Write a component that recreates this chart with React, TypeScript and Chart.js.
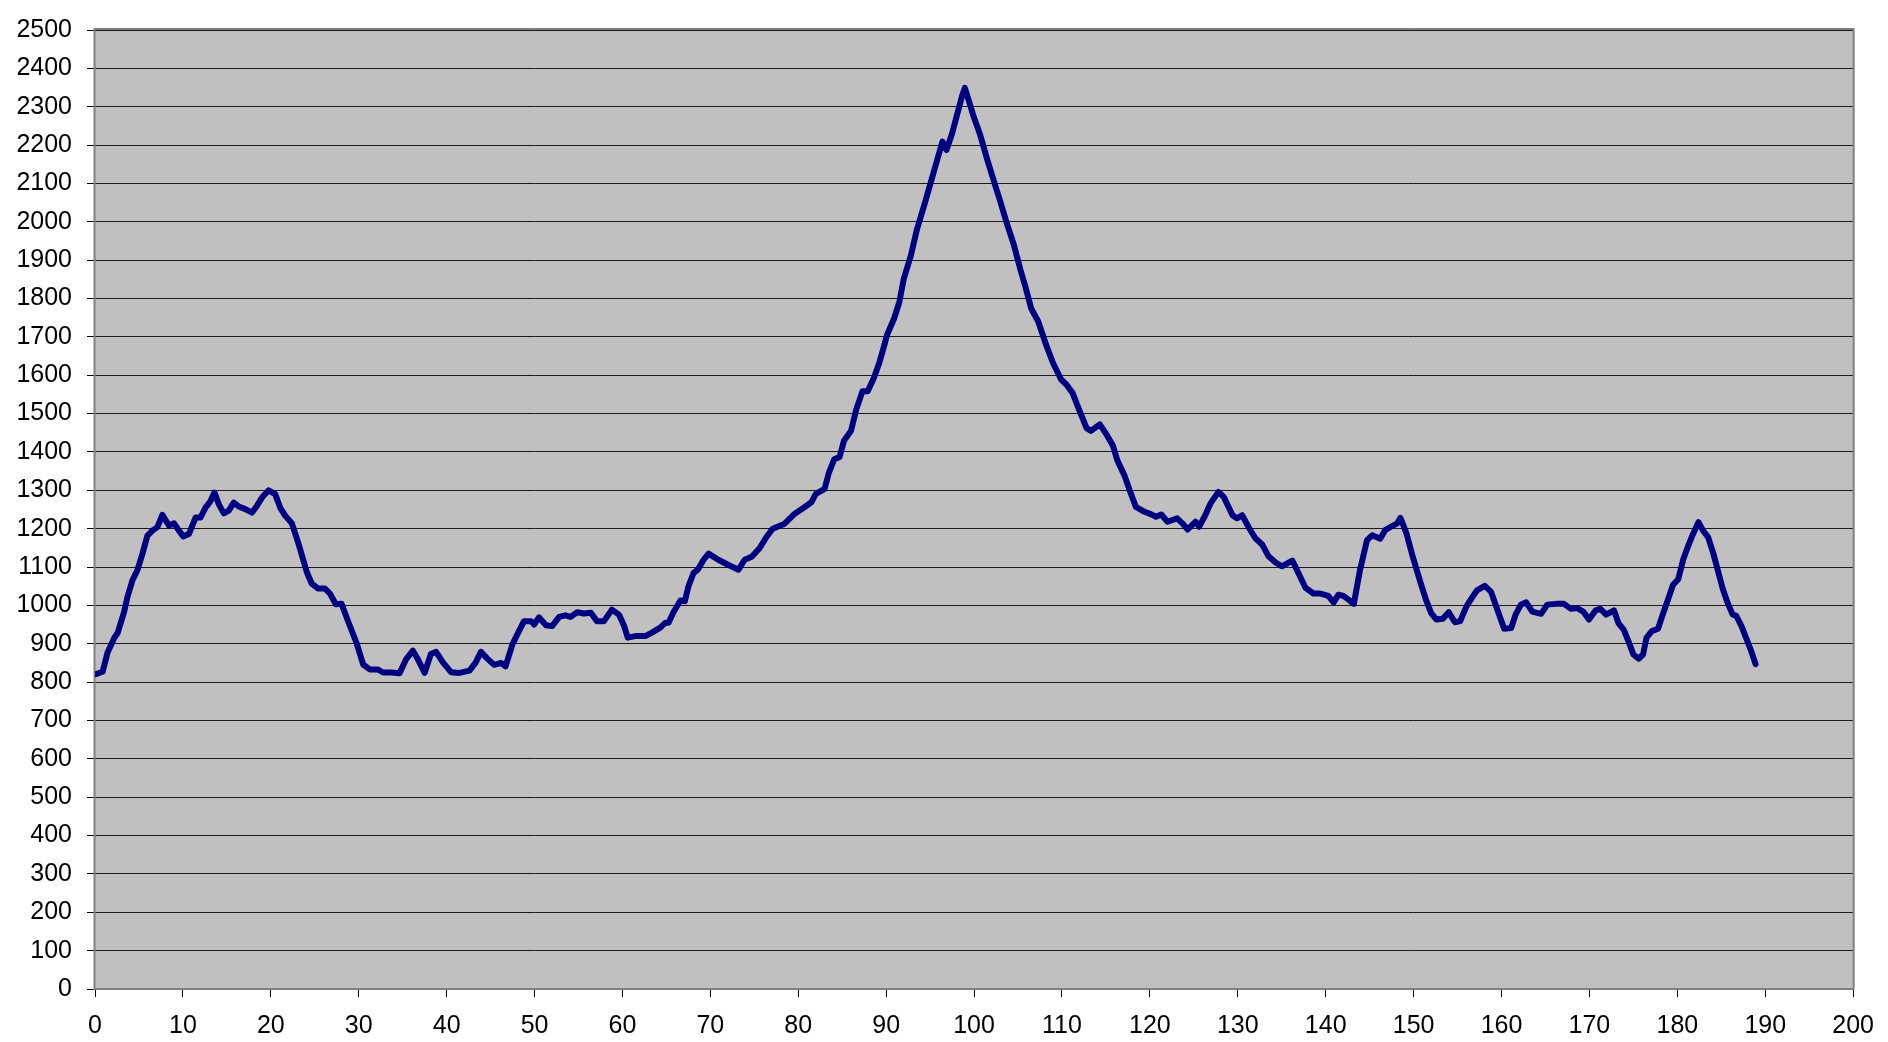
import React, { useEffect, useRef } from "react";
import { Chart, registerables } from "chart.js";

Chart.register(...registerables);

// Horizontal positions (x-axis values) of the traced curve
const xValues: number[] = [
  0.1, 0.87, 1.43, 2.19, 2.57, 3.32, 3.7, 4.27, 4.83, 5.4, 5.96, 6.53, 7.1, 7.66, 8.42, 8.98, 9.55, 10.04, 10.68, 11.44,
  12.0, 12.57, 13.14, 13.59, 14.08, 14.65, 15.22, 15.78, 16.35, 17.1, 17.86, 18.43, 19.0, 19.75, 20.5, 21.06, 21.63, 22.39, 23.15, 24.09,
  24.65, 25.4, 26.16, 26.72, 27.4, 28.05, 28.8, 29.75, 30.5, 31.26, 32.2, 32.77, 33.7, 34.65, 35.4, 36.16, 36.72, 37.5, 38.2, 38.8,
  39.6, 40.5, 41.45, 42.6, 43.3, 43.9, 44.6, 45.4, 46.2, 46.7, 47.5, 48.06, 48.8, 49.6, 49.95, 50.5, 51.3, 52.0, 52.8, 53.5,
  54.1, 54.85, 55.6, 56.4, 57.1, 57.9, 58.8, 59.6, 60.2, 60.6, 61.45, 62.6, 63.35, 64.3, 64.9, 65.25, 65.8, 66.6, 67.1, 67.5,
  68.07, 68.6, 69.2, 69.8, 70.9, 72.0, 73.2, 73.9, 74.7, 75.6, 76.4, 77.1, 78.45, 79.6, 80.7, 81.5, 82.0, 83.0, 83.5, 84.1,
  84.7, 85.2, 86.0, 86.6, 87.3, 87.9, 88.6, 89.2, 89.8, 90.1, 90.9, 91.5, 92.0, 92.8, 93.5, 94.3, 95.05, 95.8, 96.4, 96.86,
  97.5, 98.1, 98.65, 98.95, 99.4, 99.9, 100.7, 101.45, 102.2, 102.97, 103.7, 104.5, 105.25, 105.8, 106.5, 107.3, 108.2, 108.98, 109.9, 110.5,
  111.2, 112.0, 112.8, 113.3, 114.3, 115.0, 115.8, 116.3, 117.1, 117.7, 118.4, 119.4, 120.1, 120.7, 121.3, 122.0, 123.1, 123.7, 124.3, 125.2,
  125.6, 126.3, 126.9, 127.8, 128.4, 129.4, 129.9, 130.5, 131.3, 132.0, 132.8, 133.5, 134.3, 135.0, 136.2, 136.9, 137.7, 138.6, 139.4, 140.3,
  140.9, 141.45, 142.0, 142.6, 143.2, 143.9, 144.7, 145.3, 146.2, 146.8, 147.5, 148.1, 148.5, 149.2, 149.9, 150.7, 151.4, 152.0, 152.6, 153.3,
  154.0, 154.7, 155.3, 156.0, 156.6, 157.2, 158.1, 158.8, 159.6, 160.3, 161.1, 161.6, 162.2, 162.8, 163.5, 164.5, 165.2, 166.2, 167.1, 167.9,
  168.6, 169.3, 169.95, 170.7, 171.25, 171.9, 172.8, 173.3, 173.9, 174.5, 175.0, 175.6, 176.1, 176.5, 177.1, 177.8, 178.4, 179.0, 179.5, 180.1,
  180.7, 181.2, 181.8, 182.4, 182.9, 183.5, 184.1, 184.6, 185.2, 185.8, 186.3, 186.7, 187.3, 187.9, 188.4, 188.9,
];

// Series values
const yValues: number[] = [
  821, 827, 877, 915, 928, 984, 1023, 1066, 1092, 1135, 1182, 1195, 1204, 1236, 1208, 1214, 1195, 1180, 1186, 1229,
  1229, 1255, 1272, 1294, 1264, 1240, 1247, 1268, 1258, 1251, 1242, 1260, 1281, 1300, 1290, 1255, 1234, 1214, 1161, 1087,
  1057, 1044, 1044, 1031, 1003, 1004, 958, 902, 846, 833, 833, 825, 825, 823, 860, 882, 860, 824, 873, 879,
  851, 826, 824, 830, 851, 879, 862, 845, 850, 841, 899, 925, 959, 959, 950, 969, 948, 946, 970, 974,
  970, 982, 979, 981, 959, 959, 989, 976, 946, 916, 920, 920, 929, 942, 955, 955, 982, 1013, 1011, 1049,
  1084, 1094, 1118, 1135, 1119, 1106, 1093, 1119, 1127, 1149, 1179, 1200, 1213, 1239, 1256, 1269, 1291, 1304, 1347, 1381,
  1387, 1429, 1455, 1511, 1558, 1558, 1593, 1631, 1679, 1705, 1748, 1791, 1851, 1911, 1980, 2041, 2101, 2161, 2209, 2187,
  2230, 2282, 2329, 2349, 2316, 2278, 2226, 2166, 2110, 2054, 1998, 1942, 1877, 1834, 1774, 1740, 1679, 1632, 1589, 1576,
  1554, 1507, 1462, 1455, 1472, 1448, 1416, 1378, 1339, 1300, 1257, 1244, 1238, 1231, 1237, 1218, 1227, 1214, 1198, 1218,
  1205, 1235, 1266, 1296, 1283, 1235, 1227, 1235, 1201, 1175, 1158, 1128, 1112, 1102, 1117, 1084, 1046, 1031, 1031, 1025,
  1008, 1028, 1025, 1015, 1004, 1092, 1170, 1183, 1174, 1197, 1206, 1213, 1228, 1187, 1127, 1066, 1015, 980, 963, 965,
  982, 956, 959, 997, 1019, 1039, 1051, 1036, 984, 939, 941, 976, 1002, 1008, 984, 978, 1002, 1004, 1004, 991,
  993, 984, 963, 987, 991, 976, 987, 954, 937, 903, 872, 861, 872, 916, 933, 939, 980, 1019, 1053, 1068,
  1122, 1153, 1187, 1217, 1196, 1178, 1135, 1092, 1041, 1002, 976, 973, 946, 911, 881, 847,
];

const xAxisMin = 0;
const xAxisMax = 200;
const xAxisStep = 10;
const yAxisMin = 0;
const yAxisMax = 2500;
const yAxisStep = 100;

const plotAreaPlugin = {
  id: "plotArea",
  beforeDraw(chart: any) {
    const { ctx, chartArea } = chart;
    ctx.save();
    ctx.fillStyle = "#C0C0C0";
    ctx.fillRect(chartArea.left, chartArea.top, chartArea.right - chartArea.left, chartArea.bottom - chartArea.top);
    ctx.restore();
  },
  beforeDatasetsDraw(chart: any) {
    const { ctx, chartArea } = chart;
    ctx.save();
    ctx.strokeStyle = "#808080";
    ctx.lineWidth = 2;
    ctx.strokeRect(chartArea.left - 0.5, chartArea.top - 1, chartArea.right - chartArea.left + 1, chartArea.bottom - chartArea.top + 1);
    ctx.restore();
  },
};

export default function App() {
  const canvasRef = useRef<HTMLCanvasElement | null>(null);

  useEffect(() => {
    if (!canvasRef.current) return;
    const points = xValues.map((x, i) => ({ x, y: yValues[i] }));
    const font = { family: "'Liberation Sans', Arial, sans-serif", size: 25 };
    const plain = (v: any) => String(v);
    const chart = new Chart(canvasRef.current, {
      type: "line",
      data: {
        datasets: [
          {
            data: points,
            borderColor: "#000080",
            borderWidth: 6,
            pointRadius: 0,
            tension: 0,
            fill: false,
            borderJoinStyle: "round",
            borderCapStyle: "round",
          },
        ],
      },
      options: {
        responsive: false,
        animation: false,
        devicePixelRatio: 1,
        layout: { padding: { top: 22, right: 28, bottom: 0, left: 0 } },
        plugins: { legend: { display: false }, tooltip: { enabled: false } },
        scales: {
          x: {
            type: "linear",
            min: xAxisMin,
            max: xAxisMax,
            ticks: { stepSize: xAxisStep, color: "#000", font, padding: 14, maxRotation: 0, autoSkip: false, callback: plain },
            grid: { drawOnChartArea: false, drawTicks: true, tickLength: 8, color: "#000", tickColor: "#000" },
            border: { display: false },
            afterFit: (s: any) => {
              s.height = 53;
            },
          },
          y: {
            type: "linear",
            min: yAxisMin,
            max: yAxisMax,
            ticks: { stepSize: yAxisStep, color: "#000", font, padding: 15, autoSkip: false, callback: plain },
            grid: { color: "#1a1a1a", lineWidth: 1, drawTicks: true, tickLength: 8, tickColor: "#000" },
            border: { display: false },
            afterFit: (s: any) => {
              s.width = 95;
            },
          },
        },
      },
      plugins: [plotAreaPlugin],
    });
    return () => chart.destroy();
  }, []);

  return (
    <div style={{ position: "absolute", left: 0, top: 0, width: 1888, height: 1042, background: "#fff" }}>
      <canvas ref={canvasRef} width={1888} height={1042} style={{ width: 1888, height: 1042, display: "block" }} />
    </div>
  );
}
